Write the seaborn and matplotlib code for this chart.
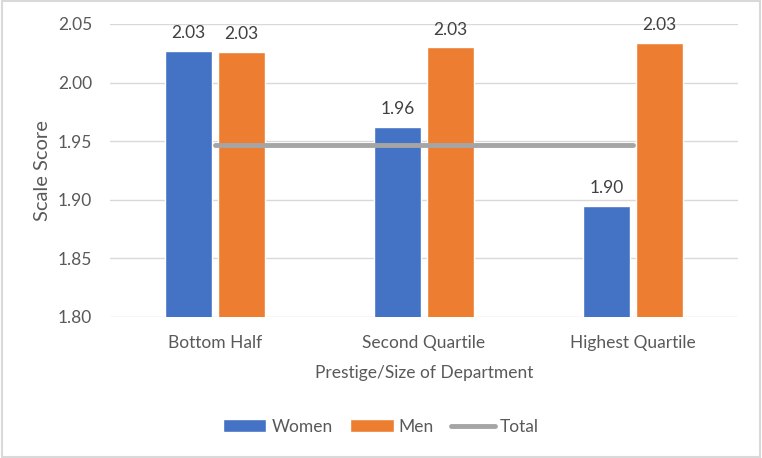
import numpy as np
import pandas as pd
import matplotlib
matplotlib.use("Agg")
import matplotlib.pyplot as plt
import seaborn as sns
from matplotlib.patches import Patch, Rectangle
from matplotlib.lines import Line2D

# Data
departments = ['Bottom Half', 'Second Quartile', 'Highest Quartile']
women = [2.027, 1.962, 1.895]
men = [2.026, 2.030, 2.034]
total = [1.947, 1.947, 1.947]

df = pd.DataFrame({
    'Department': departments * 2,
    'Score': women + men,
    'Group': ['Women'] * 3 + ['Men'] * 3,
})

sns.set_style('white')
plt.rcParams['font.family'] = ['Lato', 'DejaVu Sans']

text_color = '#595959'
palette = {'Women': '#4472C4', 'Men': '#ED7D31'}

fig = plt.figure(figsize=(7.62, 4.58), dpi=100)
ax = fig.add_axes([0.1444, 0.3079, 0.8241, 0.6397])

sns.barplot(data=df, x='Department', y='Score', hue='Group', order=departments,
            hue_order=['Women', 'Men'], palette=palette, width=0.506, gap=0.11,
            saturation=1, legend=False, ax=ax, zorder=3)

# Total line across the categories
sns.lineplot(x=np.arange(len(departments)), y=total, color='#A5A5A5', linewidth=3.5,
             ax=ax, zorder=4, solid_capstyle='round')

for cont in ax.containers:
    ax.bar_label(cont, fmt='%.2f', padding=7, fontsize=12.5, color='#404040')

ax.set_ylim(1.80, 2.05)
ax.set_yticks([1.80, 1.85, 1.90, 1.95, 2.00, 2.05])
ax.set_yticklabels([f'{v:.2f}' for v in [1.80, 1.85, 1.90, 1.95, 2.00, 2.05]])
ax.set_xlim(-0.5, 2.5)
ax.yaxis.grid(True, color='#D9D9D9', linewidth=1, zorder=0)
ax.set_axisbelow(True)
for s in ax.spines.values():
    s.set_visible(False)
ax.tick_params(axis='both', length=0, labelsize=12.5, labelcolor=text_color)
ax.tick_params(axis='x', pad=13)
ax.tick_params(axis='y', pad=13)

ax.set_xlabel('Prestige/Size of Department', fontsize=12.5, color=text_color, labelpad=10)
ax.set_ylabel('Scale Score', fontsize=14.5, color=text_color, labelpad=5)

handles = [
    Patch(facecolor=palette['Women'], label='Women'),
    Patch(facecolor=palette['Men'], label='Men'),
    Line2D([0], [0], color='#A5A5A5', linewidth=3.5, label='Total'),
]
leg = fig.legend(handles=handles, loc='center', bbox_to_anchor=(0.5, 0.068), ncol=3,
                 frameon=False, fontsize=12.5, handlelength=2.5, handleheight=0.8,
                 handletextpad=0.3, columnspacing=1.0)
for t in leg.get_texts():
    t.set_color(text_color)

# Light frame around the whole chart
fig.patches.append(Rectangle((0.002, 0.003), 0.996, 0.994, transform=fig.transFigure,
                             fill=False, edgecolor='#D9D9D9', linewidth=1.5))

fig.savefig('out.png', dpi=100)
